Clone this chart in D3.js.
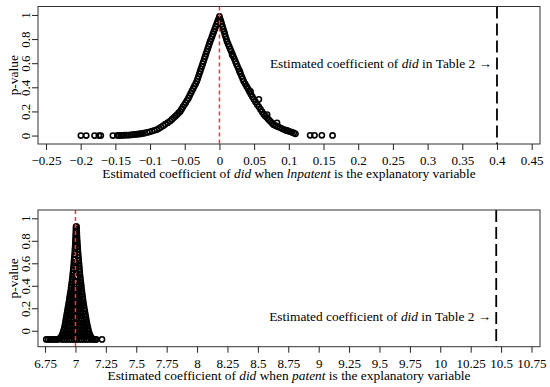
<!DOCTYPE html>
<html>
<head>
<meta charset="utf-8">
<script src="https://cdn.jsdelivr.net/npm/d3@7"></script>
<style>
  body { margin: 0; background: #fff; }
  text { font-family: "Liberation Serif", "Times New Roman", serif; }
</style>
</head>
<body>
<svg id="chart" width="550" height="387"></svg>
<script>
// placebo draws: [estimated coefficient, p-value]
const lnpatentDraws = [
  [-0.1997,0],[-0.192,0],[-0.180,0],[-0.1738,0],[-0.171,0],[-0.1536,0],
  [-0.147,0.001],[-0.1445,0.001],[-0.142,0.002],[-0.1395,0.002],[-0.137,0.003],[-0.134,0.003],
  [-0.131,0.004],[-0.128,0.005],[-0.125,0.007],[-0.122,0.009],[-0.119,0.011],[-0.116,0.013],[-0.113,0.015],
  [-0.1105,0.018],[-0.1075,0.021],[-0.104,0.026],[-0.1005,0.031],[-0.097,0.037],[-0.0935,0.043],[-0.090,0.050],
  [-0.087,0.060],[-0.084,0.070],[-0.081,0.082],[-0.078,0.094],[-0.0745,0.107],[-0.071,0.120],
  [-0.0685,0.134],[-0.066,0.147],[-0.0635,0.161],[-0.061,0.174],[-0.0588,0.187],[-0.0566,0.200],
  [-0.0546,0.218],[-0.0526,0.237],[-0.0506,0.255],[-0.0486,0.273],[-0.0466,0.292],[-0.0447,0.310],
  [-0.043,0.330],[-0.0413,0.350],[-0.0396,0.370],[-0.0378,0.390],[-0.0361,0.410],[-0.0343,0.430],[-0.0326,0.450],
  [-0.0314,0.470],[-0.0302,0.491],[-0.029,0.512],[-0.0278,0.533],[-0.0266,0.553],[-0.0254,0.574],[-0.0242,0.594],[-0.023,0.615],
  [-0.0218,0.636],[-0.0206,0.656],[-0.0194,0.677],[-0.0182,0.698],[-0.017,0.718],[-0.0158,0.739],[-0.0146,0.759],[-0.0134,0.780],
  [-0.012,0.800],[-0.0107,0.821],[-0.0094,0.842],[-0.008,0.863],[-0.0067,0.884],[-0.0054,0.904],[-0.004,0.925],[-0.0027,0.946],[-0.0013,0.966],[0,0.987],
  [0.0011,0.966],[0.0022,0.946],[0.0033,0.925],[0.0044,0.904],[0.0055,0.883],[0.0066,0.863],[0.0077,0.842],[0.0088,0.821],[0.0099,0.800],[0.011,0.780],
  [0.0125,0.759],[0.014,0.739],[0.0155,0.718],[0.017,0.698],[0.0185,0.677],[0.020,0.656],[0.0215,0.636],[0.023,0.615],
  [0.0245,0.594],[0.026,0.574],[0.0275,0.553],[0.029,0.533],[0.0305,0.512],[0.032,0.491],[0.0335,0.470],[0.035,0.450],
  [0.0371,0.429],[0.0392,0.407],[0.0413,0.386],[0.0433,0.364],[0.0454,0.343],[0.0475,0.321],[0.0496,0.300],
  [0.052,0.279],[0.0544,0.258],[0.0568,0.238],[0.0592,0.217],[0.0616,0.196],[0.064,0.175],
  [0.0663,0.161],[0.0687,0.147],[0.071,0.132],[0.0733,0.118],[0.0757,0.104],[0.078,0.090],
  [0.081,0.082],[0.084,0.074],[0.087,0.066],[0.090,0.058],[0.093,0.050],
  [0.0958,0.044],[0.0986,0.039],[0.1014,0.033],[0.1042,0.028],[0.107,0.022],[0.1095,0.014],
  [0.0183,0.670],[0.0294,0.530],[0.0447,0.367],[0.0568,0.300],[0.0687,0.174],[0.083,0.105],[0.0976,0.040],
  [0.1307,0.002],[0.137,0.002],[0.1476,0.002],[0.163,0.001]
];

const patentDraws = [
  // outline of the peak
  [6.76,-0.077],[6.775,-0.077],[6.79,-0.077],[6.805,-0.077],[6.82,-0.077],[6.835,-0.077],[6.85,-0.077],[6.862,-0.075],[6.870,-0.070],
  [6.878,-0.062],[6.886,-0.048],[6.893,-0.030],[6.899,-0.012],[6.904,0.008],[6.909,0.030],[6.914,0.055],
  [6.918,0.080],[6.922,0.105],[6.926,0.130],[6.930,0.155],[6.934,0.180],[6.938,0.205],[6.942,0.230],
  [6.946,0.255],[6.950,0.280],[6.953,0.305],[6.957,0.330],[6.961,0.355],[6.964,0.380],[6.967,0.405],
  [6.970,0.430],[6.973,0.455],[6.976,0.480],[6.978,0.505],[6.981,0.530],[6.983,0.555],[6.985,0.580],
  [6.987,0.605],[6.989,0.630],[6.991,0.655],[6.993,0.680],[6.995,0.705],[6.996,0.730],[6.998,0.755],
  [6.999,0.780],[7.000,0.805],[7.001,0.830],[7.002,0.855],[7.003,0.880],[7.004,0.905],[7.005,0.925],
  [7.009,0.925],[7.010,0.900],[7.011,0.875],[7.012,0.850],[7.013,0.825],[7.015,0.800],[7.016,0.775],
  [7.018,0.750],[7.019,0.725],[7.021,0.700],[7.023,0.675],[7.025,0.650],[7.027,0.625],[7.029,0.600],
  [7.031,0.575],[7.033,0.550],[7.035,0.525],[7.037,0.500],[7.040,0.475],[7.042,0.450],[7.045,0.425],
  [7.048,0.400],[7.050,0.375],[7.053,0.350],[7.056,0.325],[7.059,0.300],[7.062,0.275],[7.066,0.250],
  [7.069,0.225],[7.073,0.200],[7.077,0.175],[7.081,0.150],[7.085,0.125],[7.089,0.100],[7.093,0.075],
  [7.098,0.050],[7.103,0.025],[7.108,0.000],[7.114,-0.022],[7.121,-0.042],[7.129,-0.058],[7.138,-0.070],
  [7.148,-0.076],[7.160,-0.077],[7.170,-0.077],[7.218,-0.077],
  // draws filling the peak
  [6.89,-0.077],[6.91,-0.077],[6.93,-0.077],[6.95,-0.077],[6.97,-0.077],[6.99,-0.077],[7.01,-0.077],
  [7.03,-0.077],[7.05,-0.077],[7.07,-0.077],[7.09,-0.077],[7.11,-0.077],[7.13,-0.077],
  [6.905,-0.05],[6.925,-0.05],[6.945,-0.05],[6.965,-0.05],[6.985,-0.05],[7.005,-0.05],[7.025,-0.05],
  [7.045,-0.05],[7.065,-0.05],[7.085,-0.05],[7.105,-0.05],
  [6.918,-0.02],[6.94,-0.02],[6.962,-0.02],[6.984,-0.02],[7.006,-0.02],[7.028,-0.02],[7.05,-0.02],[7.072,-0.02],[7.094,-0.02],
  [6.926,0.01],[6.948,0.01],[6.97,0.01],[6.992,0.01],[7.014,0.01],[7.036,0.01],[7.058,0.01],[7.08,0.01],
  [6.932,0.04],[6.954,0.04],[6.976,0.04],[6.998,0.04],[7.02,0.04],[7.042,0.04],[7.064,0.04],[7.08,0.04],
  [6.938,0.07],[6.96,0.07],[6.982,0.07],[7.004,0.07],[7.026,0.07],[7.048,0.07],[7.072,0.07],
  [6.942,0.10],[6.964,0.10],[6.986,0.10],[7.008,0.10],[7.03,0.10],[7.052,0.10],[7.07,0.10],
  [6.946,0.13],[6.968,0.13],[6.99,0.13],[7.012,0.13],[7.034,0.13],[7.056,0.13],
  [6.952,0.16],[6.974,0.16],[6.996,0.16],[7.018,0.16],[7.04,0.16],[7.06,0.16],
  [6.956,0.19],[6.978,0.19],[7.0,0.19],[7.022,0.19],[7.044,0.19],
  [6.96,0.22],[6.982,0.22],[7.004,0.22],[7.026,0.22],[7.05,0.22],
  [6.966,0.25],[6.988,0.25],[7.01,0.25],[7.032,0.25],[7.048,0.25],
  [6.97,0.28],[6.992,0.28],[7.014,0.28],[7.036,0.28],
  [6.976,0.31],[6.998,0.31],[7.02,0.31],[7.038,0.31],
  [6.98,0.34],[7.005,0.34],[7.03,0.34],
  [6.985,0.37],[7.007,0.37],[7.03,0.37],
  [6.99,0.40],[7.012,0.40],[7.03,0.40],
  [6.995,0.44],[7.02,0.44],
  [7.0,0.48],[7.02,0.48],
  [7.008,0.52],[7.008,0.56],[7.008,0.60]
];

const lnpatentTicks = [-0.25,-0.2,-0.15,-0.1,-0.05,0,0.05,0.1,0.15,0.2,0.25,0.3,0.35,0.4,0.45];
const patentTicks = [6.75,7,7.25,7.5,7.75,8,8.25,8.5,8.75,9,9.25,9.5,9.75,10,10.25,10.5,10.75];
const pTicks = [0,0.2,0.4,0.6,0.8,1];

const lnpatentEstimate = 0.4;
const patentEstimate = 10.46;
const lnpatentTrue = 0;
const patentTrue = 7;

const tickSize = 13;
const labelSize = 13.4;
const svg = d3.select("#chart");
const minus = d => (d < 0 ? "\u2212" : "") + Math.abs(d);

function drawPanel(opt) {
  const x = d3.scaleLinear().domain(opt.xDomain).range([opt.left, opt.right]);
  const y = d3.scaleLinear().domain(opt.yDomain).range([opt.bottom, opt.top]);
  const g = svg.append("g");

  g.selectAll("circle")
    .data(opt.draws)
    .enter()
    .append("circle")
    .attr("cx", d => x(d[0]))
    .attr("cy", d => y(d[1]))
    .attr("r", 2.6)
    .attr("fill", "none")
    .attr("stroke", "#000")
    .attr("stroke-width", 1.6);

  // red line at the true placebo value
  g.append("line")
    .attr("x1", x(opt.center)).attr("x2", x(opt.center))
    .attr("y1", opt.top).attr("y2", opt.bottom)
    .attr("stroke", "#ff3030")
    .attr("stroke-width", 1.5)
    .attr("stroke-dasharray", "4,3");

  // estimated coefficient from Table 2
  g.append("line")
    .attr("x1", x(opt.estimate)).attr("x2", x(opt.estimate))
    .attr("y1", opt.top).attr("y2", opt.bottom)
    .attr("stroke", "#000")
    .attr("stroke-width", 1.8)
    .attr("stroke-dasharray", "12,5");

  const note = g.append("text")
    .attr("x", x(opt.estimate) - 5)
    .attr("y", y(opt.noteP) + 4.5)
    .attr("text-anchor", "end")
    .attr("font-size", labelSize + "px");
  note.append("tspan").text("Estimated coefficient of ");
  note.append("tspan").attr("font-style", "italic").text("did");
  note.append("tspan").text(" in Table 2 \u2192");

  g.append("rect")
    .attr("x", opt.left).attr("y", opt.top)
    .attr("width", opt.right - opt.left)
    .attr("height", opt.bottom - opt.top)
    .attr("fill", "none")
    .attr("stroke", "#333")
    .attr("stroke-width", 1);

  const xAxis = g.append("g")
    .attr("transform", "translate(0," + opt.bottom + ")")
    .call(d3.axisBottom(x).tickValues(opt.xTicks).tickFormat(minus).tickSize(6).tickPadding(6).tickSizeOuter(0));
  xAxis.select(".domain").remove();
  xAxis.attr("font-family", null).attr("font-size", tickSize);
  xAxis.selectAll("line").attr("stroke", "#222");
  xAxis.selectAll("text").attr("fill", "#000");

  const yAxis = g.append("g")
    .attr("transform", "translate(" + opt.left + ",0)")
    .call(d3.axisLeft(y).tickValues(pTicks).tickFormat(d => String(d)).tickSize(6).tickSizeOuter(0));
  yAxis.select(".domain").remove();
  yAxis.attr("font-family", null).attr("font-size", tickSize);
  yAxis.selectAll("line").attr("stroke", "#222");
  yAxis.selectAll("text")
    .attr("fill", "#000")
    .attr("text-anchor", "middle")
    .attr("transform", "rotate(-90)")
    .attr("x", 0)
    .attr("y", -8)
    .attr("dy", 0);

  g.append("text")
    .attr("transform", "translate(17.5," + (opt.top + opt.bottom) / 2 + ") rotate(-90)")
    .attr("text-anchor", "middle")
    .attr("font-size", labelSize + "px")
    .text("p-value");

  const title = g.append("text")
    .attr("x", (opt.left + opt.right) / 2)
    .attr("y", opt.bottom + 33.5)
    .attr("text-anchor", "middle")
    .attr("font-size", labelSize + "px");
  title.append("tspan").text("Estimated coefficient of ");
  title.append("tspan").attr("font-style", "italic").text("did");
  title.append("tspan").text(" when ");
  title.append("tspan").attr("font-style", "italic").text(opt.varName);
  title.append("tspan").text(" is the explanatory variable");
}

drawPanel({
  draws: lnpatentDraws, xTicks: lnpatentTicks,
  xDomain: [-0.2615, 0.462], yDomain: [-0.07, 1.07],
  left: 38, right: 540, top: 6.5, bottom: 144,
  center: lnpatentTrue, estimate: lnpatentEstimate, noteP: 0.6,
  varName: "lnpatent"
});

drawPanel({
  draws: patentDraws, xTicks: patentTicks,
  xDomain: [6.692, 10.82], yDomain: [-0.142, 1.074],
  left: 38, right: 540, top: 210, bottom: 346.7,
  center: patentTrue, estimate: patentEstimate, noteP: 0.13,
  varName: "patent"
});
</script>
</body>
</html>
